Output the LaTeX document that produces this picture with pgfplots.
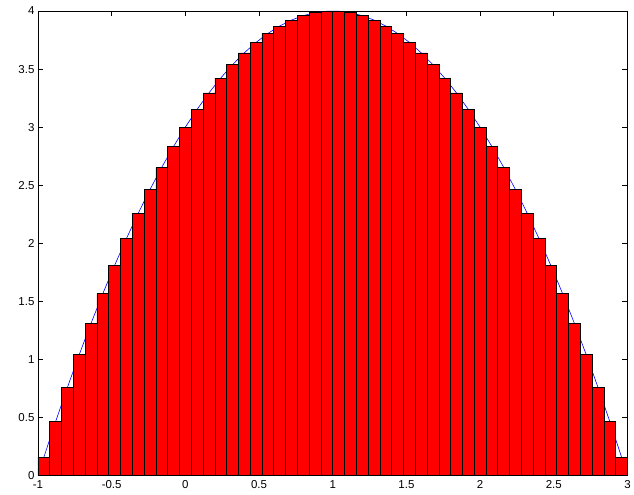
\documentclass[border=0pt]{standalone}
\usepackage{pgfplots}
\usepackage{pgfplotstable}
\usepackage{fontspec}
\setmainfont{Liberation Sans}
\pgfplotsset{compat=1.18}

% midpoint rule for 4-(x-1)^2 on [-1,3], 50 cells of width 0.08
\pgfplotstableread{
m     h
-0.96 0.1584
-0.88 0.4656
-0.80 0.76
-0.72 1.0416
-0.64 1.3104
-0.56 1.5664
-0.48 1.8096
-0.40 2.04
-0.32 2.2576
-0.24 2.4624
-0.16 2.6544
-0.08 2.8336
0.00  3.0
0.08  3.1536
0.16  3.2944
0.24  3.4224
0.32  3.5376
0.40  3.64
0.48  3.7296
0.56  3.8064
0.64  3.8704
0.72  3.9216
0.80  3.96
0.88  3.9856
0.96  3.9984
1.04  3.9984
1.12  3.9856
1.20  3.96
1.28  3.9216
1.36  3.8704
1.44  3.8064
1.52  3.7296
1.60  3.64
1.68  3.5376
1.76  3.4224
1.84  3.2944
1.92  3.1536
2.00  3.0
2.08  2.8336
2.16  2.6544
2.24  2.4624
2.32  2.2576
2.40  2.04
2.48  1.8096
2.56  1.5664
2.64  1.3104
2.72  1.0416
2.80  0.76
2.88  0.4656
2.96  0.1584
}\cells

\begin{document}
\begin{tikzpicture}
\begin{axis}[
  scale only axis,
  width=590pt, height=465pt,
  xmin=-1, xmax=3, ymin=0, ymax=4,
  xtick={-1,-0.5,...,3},
  xticklabels={-1,-0.5,0,0.5,1,1.5,2,2.5,3},
  ytick={0,0.5,...,4},
  yticklabels={0,0.5,1,1.5,2,2.5,3,3.5,4},
  tick align=inside,
  major tick length=5pt,
  tick style={black, line width=0.6pt},
  axis line style={black, line width=0.8pt},
  tick label style={font=\fontsize{11.5}{13}\selectfont},
  xticklabel style={yshift=-1pt},
  clip=false,
]
\addplot[blue, line width=0.6pt] table[x=m, y=h] {\cells};
\addplot[fill=red, draw=black, line width=0.6pt, ybar, bar width=0.08, bar shift=0pt]
  table[x=m, y=h] {\cells};
\coordinate (sw) at (rel axis cs:0,0);
\coordinate (ne) at (rel axis cs:1,1);
\end{axis}
\path[use as bounding box] ([shift={(-38pt,-19pt)}]sw) rectangle ([shift={(6pt,11pt)}]ne);
\end{tikzpicture}
\end{document}
